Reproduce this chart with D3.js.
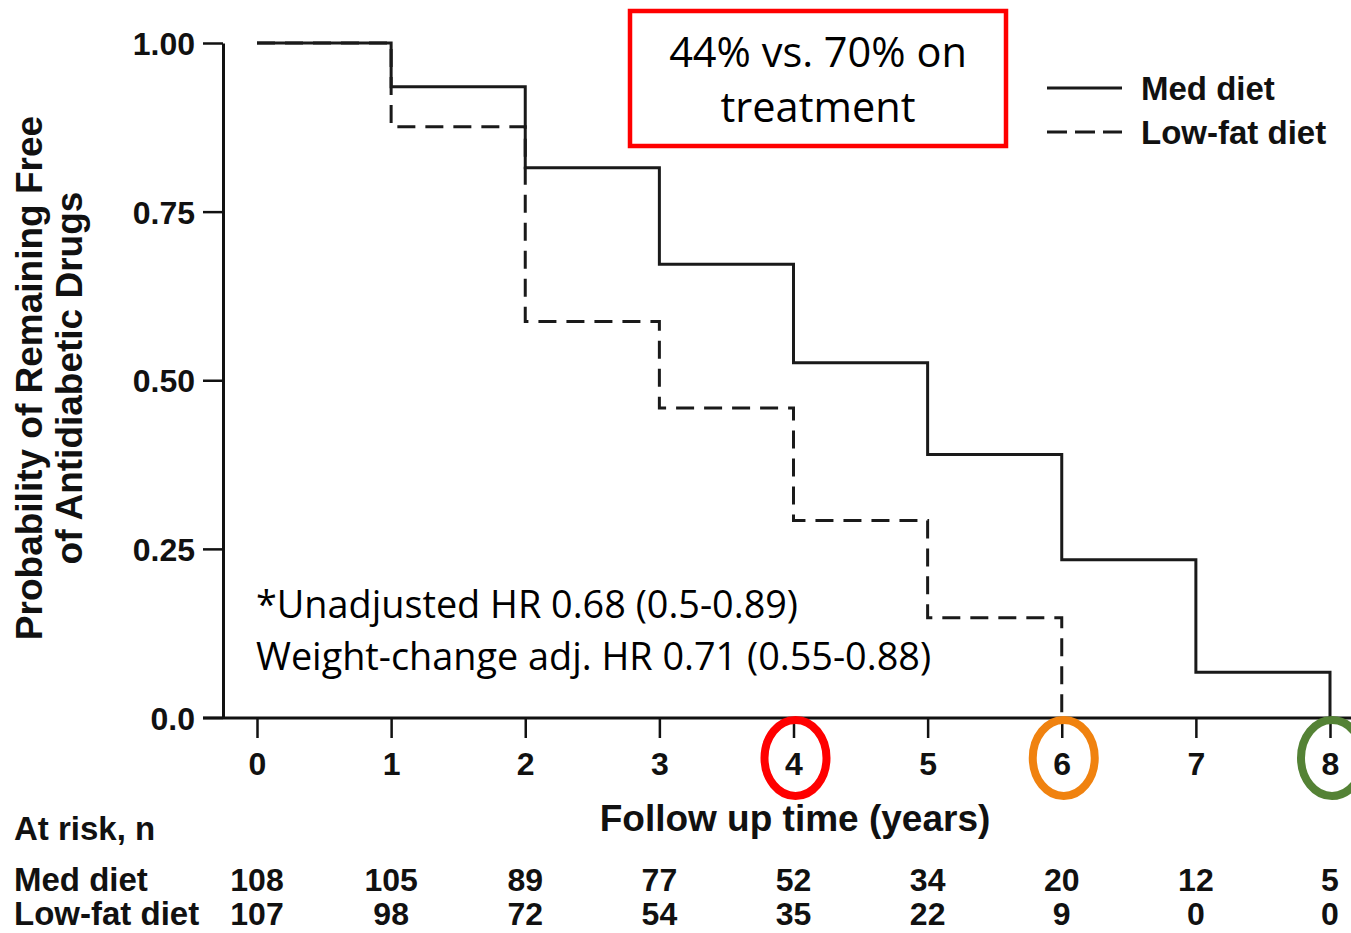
<!DOCTYPE html>
<html>
<head>
<meta charset="utf-8">
<script src="https://cdn.jsdelivr.net/npm/d3@7"></script>
<style>
  html, body { margin: 0; padding: 0; background: #fff; }
  svg { display: block; }
  .bold { font-family: "Liberation Sans", Arial, Helvetica, sans-serif; font-weight: bold; fill: #111; }
  .note { font-family: "Open Sans", "Noto Sans", sans-serif; fill: #000; }
</style>
</head>
<body>
<svg id="chart" width="1351" height="933"></svg>
<script>
// Follow-up years
const years = [0, 1, 2, 3, 4, 5, 6, 7, 8];

// Kaplan–Meier survival estimates (probability of remaining free of antidiabetic drugs)
const medSurvival = [1.0, 0.935, 0.815, 0.672, 0.526, 0.390, 0.234, 0.067, 0.0];
const lowFatYears = [0, 1, 2, 3, 4, 5, 6];
const lowFatSurvival = [1.0, 0.876, 0.587, 0.459, 0.292, 0.148, 0.0];

// Number at risk per year
const medAtRisk = [108, 105, 89, 77, 52, 34, 20, 12, 5];
const lowFatAtRisk = [107, 98, 72, 54, 35, 22, 9, 0, 0];

// Axis tick values and labels
const yTicks = [0, 0.25, 0.5, 0.75, 1.0];
const yTickLabels = ["0.0", "0.25", "0.50", "0.75", "1.00"];

// Highlighted years with their ring colours
const highlightYears = [4, 6, 8];
const highlightColors = ["#ff0000", "#f0820f", "#548235"];

const svg = d3.select("#chart");

const x = d3.scaleLinear().domain([0, 8]).range([257, 1330]);
const y = d3.scaleLinear().domain([0, 1]).range([717.5, 43]);

const axisColor = "#111";
const lineColor = "#1a1a1a";

// Y axis
const yAxis = d3.axisLeft(y)
  .tickValues(yTicks)
  .tickSize(20)
  .tickSizeOuter(0)
  .tickPadding(8)
  .tickFormat(d => yTickLabels[yTicks.indexOf(d)]);

const gy = svg.append("g")
  .attr("transform", "translate(223,0)")
  .call(yAxis);
gy.select(".domain").attr("stroke", axisColor).attr("stroke-width", 3);
gy.selectAll(".tick line").attr("stroke", axisColor).attr("stroke-width", 2.5);
gy.selectAll(".tick text")
  .attr("class", "bold")
  .attr("font-size", 32)
  .attr("dy", "0.36em")
  .attr("fill", "#111");

// X axis
const xAxis = d3.axisBottom(x)
  .tickValues(years)
  .tickSize(20)
  .tickSizeOuter(0)
  .tickPadding(14)
  .tickFormat(d3.format("d"));

const gx = svg.append("g")
  .attr("transform", "translate(0,718)")
  .call(xAxis);
gx.select(".domain").remove();
gx.selectAll(".tick line").attr("stroke", axisColor).attr("stroke-width", 2.5);
gx.selectAll(".tick text")
  .attr("class", "bold")
  .attr("font-size", 32)
  .attr("fill", "#111");

// Baseline extends across the full width
svg.append("line")
  .attr("x1", 203).attr("x2", 1351)
  .attr("y1", 718).attr("y2", 718)
  .attr("stroke", axisColor).attr("stroke-width", 3);

// Survival curves
const stepLine = d3.line()
  .x(d => x(d[0]))
  .y(d => y(d[1]))
  .curve(d3.curveStepAfter);

svg.append("path")
  .datum(years.map((t, i) => [t, medSurvival[i]]))
  .attr("d", stepLine)
  .attr("fill", "none")
  .attr("stroke", lineColor)
  .attr("stroke-width", 3);

svg.append("path")
  .datum(lowFatYears.map((t, i) => [t, lowFatSurvival[i]]))
  .attr("d", stepLine)
  .attr("fill", "none")
  .attr("stroke", lineColor)
  .attr("stroke-width", 3)
  .attr("stroke-dasharray", "18,10");

// Axis titles
const yTitle = svg.append("g").attr("class", "bold").attr("font-size", 37);
yTitle.append("text")
  .attr("transform", "translate(42,378) rotate(-90)")
  .attr("text-anchor", "middle")
  .text("Probability of Remaining Free");
yTitle.append("text")
  .attr("transform", "translate(82,378) rotate(-90)")
  .attr("text-anchor", "middle")
  .text("of Antidiabetic Drugs");

svg.append("text")
  .attr("class", "bold")
  .attr("font-size", 37)
  .attr("x", 795).attr("y", 831)
  .attr("text-anchor", "middle")
  .text("Follow up time (years)");

// Number-at-risk table
svg.append("text").attr("class", "bold").attr("font-size", 33)
  .attr("x", 14).attr("y", 840).text("At risk, n");
svg.append("text").attr("class", "bold").attr("font-size", 33)
  .attr("x", 14).attr("y", 891).text("Med diet");
svg.append("text").attr("class", "bold").attr("font-size", 33)
  .attr("x", 14).attr("y", 925).text("Low-fat diet");

svg.append("g").selectAll("text")
  .data(medAtRisk)
  .join("text")
  .attr("class", "bold")
  .attr("font-size", 32)
  .attr("text-anchor", "middle")
  .attr("x", (d, i) => x(years[i]))
  .attr("y", 891)
  .text(d => d);

svg.append("g").selectAll("text")
  .data(lowFatAtRisk)
  .join("text")
  .attr("class", "bold")
  .attr("font-size", 32)
  .attr("text-anchor", "middle")
  .attr("x", (d, i) => x(years[i]))
  .attr("y", 925)
  .text(d => d);

// Legend
const legend = svg.append("g");
legend.append("line")
  .attr("x1", 1047).attr("x2", 1122).attr("y1", 88).attr("y2", 88)
  .attr("stroke", lineColor).attr("stroke-width", 3);
legend.append("line")
  .attr("x1", 1047).attr("x2", 1122).attr("y1", 132).attr("y2", 132)
  .attr("stroke", lineColor).attr("stroke-width", 3)
  .attr("stroke-dasharray", "20,8");
legend.append("text").attr("class", "bold").attr("font-size", 33)
  .attr("x", 1141).attr("y", 100).text("Med diet");
legend.append("text").attr("class", "bold").attr("font-size", 33)
  .attr("x", 1141).attr("y", 144).text("Low-fat diet");

// Callout box
svg.append("rect")
  .attr("x", 630).attr("y", 11)
  .attr("width", 376).attr("height", 135)
  .attr("fill", "#fff")
  .attr("stroke", "#ff0000")
  .attr("stroke-width", 4.5);
svg.append("text").attr("class", "note").attr("font-size", 41.5)
  .attr("x", 818).attr("y", 67).attr("text-anchor", "middle")
  .text("44% vs. 70% on");
svg.append("text").attr("class", "note").attr("font-size", 41.5)
  .attr("x", 818).attr("y", 122).attr("text-anchor", "middle")
  .text("treatment");

// Hazard ratio notes
svg.append("text").attr("class", "note").attr("font-size", 37.8)
  .attr("x", 256).attr("y", 618)
  .text("*Unadjusted HR 0.68 (0.5-0.89)");
svg.append("text").attr("class", "note").attr("font-size", 37.8)
  .attr("x", 256).attr("y", 670)
  .text("Weight-change adj. HR 0.71 (0.55-0.88)");

// Rings around selected follow-up years
svg.append("g").selectAll("ellipse")
  .data(highlightYears)
  .join("ellipse")
  .attr("cx", d => x(d) + 2)
  .attr("cy", 758)
  .attr("rx", 31)
  .attr("ry", 38)
  .attr("fill", "none")
  .attr("stroke", (d, i) => highlightColors[i])
  .attr("stroke-width", 8);
</script>
</body>
</html>
